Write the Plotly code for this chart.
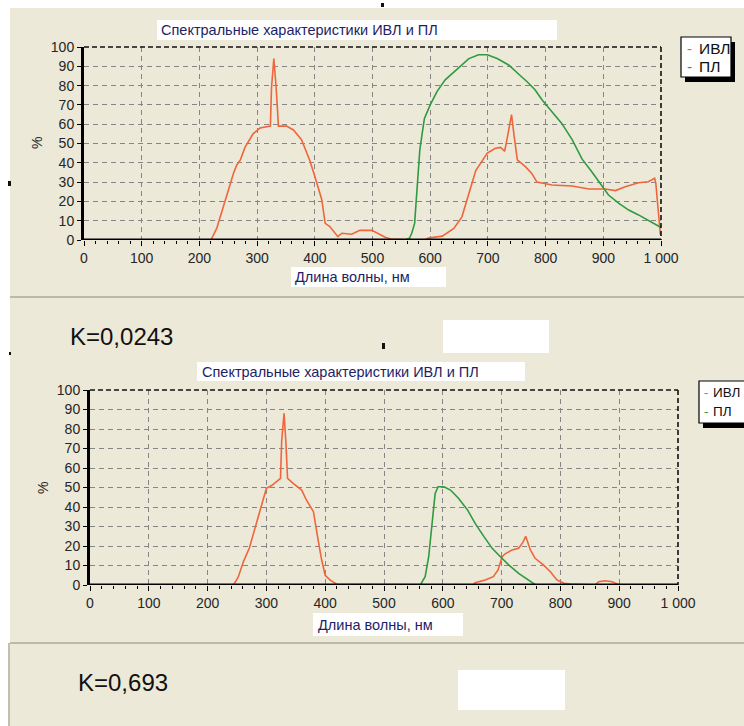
import plotly.graph_objects as go

W, H = 744, 726

# ---------------- data ----------------
# Panel 1 (K=0,0243)
ivl1_x = [0, 220, 230, 241, 259, 265, 271, 279, 293, 305, 319, 323, 325, 329, 333, 337, 351, 363, 377,
          391, 400, 412, 418, 426, 440, 447, 464, 478, 490, 499, 522, 534, 590, 597, 621, 641, 655,
          667, 679, 699, 713, 722, 729, 733, 741, 745, 751, 765, 776, 785, 800, 811, 846, 875, 903,
          921, 938, 961, 978, 989, 991, 995, 999]
ivl1_y = [0, 0, 6, 17, 34.5, 39, 41.5, 48, 55, 58, 59, 59, 79, 94, 79, 59, 59, 57, 52,
          41.5, 33, 21, 8.6, 7, 1.7, 3.5, 3, 5, 5, 5, 1.4, 0.3, 0, 1, 2, 6, 12,
          24, 36, 45, 47.5, 48, 46, 52, 65, 55, 41.5, 38, 34.5, 30, 29, 28.5, 28, 26.4, 26.4,
          25.6, 27.6, 29.7, 30.2, 32, 29.4, 17, 2.6]
pl1_x = [0, 557, 564, 568, 573, 577, 582, 586, 590, 600, 612, 626, 641, 653, 667, 684, 699, 716, 736,
         753, 768, 782, 794, 811, 828, 846, 863, 880, 898, 909, 927, 944, 961, 978, 996, 1000]
pl1_y = [0, 0, 0.9, 3.5, 8.6, 24, 46.6, 55, 63, 70, 77, 83, 87, 90.7, 94, 96, 96, 94, 90.7,
         86, 82, 77.7, 72.5, 66.5, 60.4, 52, 42, 35.4, 27.6, 23.3, 19, 15.5, 13, 10, 7, 6.5]

# Panel 2 (K=0,693)
ivl2_x = [0, 244, 252, 261, 271, 283, 300, 309, 320, 324, 326, 330, 333, 336, 346, 360, 368, 380,
          388, 394, 400, 408, 420, 652, 655, 672, 686, 694, 701, 706, 718, 729, 736, 741, 749,
          757, 771, 783, 794, 806, 817, 859, 865, 876, 888, 900, 1000]
ivl2_y = [0, 0, 4, 12, 19, 31.6, 49.6, 51, 54, 54.7, 74, 88, 74, 54.7, 52, 48.7, 43.6, 37.6,
          23, 12.8, 5, 2.6, 0.3, 0, 1.2, 2.6, 4.3, 7.7, 14.5, 16, 18, 18.8, 21.7, 25, 18,
          13.7, 10.3, 6.8, 2.6, 0.9, 0.5, 0, 1.7, 2.2, 1.7, 0, 0]
pl2_x = [0, 562, 565, 570, 576, 582, 587, 592, 602, 613, 627, 642, 655, 670, 684, 698, 712, 729,
         746, 758, 1000]
pl2_y = [0, 0, 1.7, 4.3, 14.5, 31.6, 47, 50.4, 50.4, 48.7, 44.4, 38.5, 31.6, 24.8, 18.8, 14.5,
         10.3, 6, 2.6, 0, 0]

series_names = ["ИВЛ", "ПЛ"]
k_labels = ["K=0,0243", "K=0,693"]
chart_title = "Спектральные характеристики ИВЛ и ПЛ"
x_title = "Длина волны, нм"
y_title = "%"
x_tickvals = [0, 100, 200, 300, 400, 500, 600, 700, 800, 900, 1000]
x_ticktext = ["0", "100", "200", "300", "400", "500", "600", "700", "800", "900", "1 000"]
y_tickvals = [0, 10, 20, 30, 40, 50, 60, 70, 80, 90, 100]

# ---------------- styling ----------------
BEIGE = "#ECE9D8"
ORANGE = "#F0653C"
GREEN = "#2F9A40"
NAVY = "#1E1E66"
FONT = "Liberation Sans, Arial, sans-serif"


def px(x):
    return x / W


def py(y):
    return 1 - y / H


fig = go.Figure()

fig.add_trace(go.Scatter(x=ivl1_x, y=ivl1_y, mode="lines", line=dict(color=ORANGE, width=1.6),
                         xaxis="x", yaxis="y", showlegend=False, name=series_names[0]))
fig.add_trace(go.Scatter(x=pl1_x, y=pl1_y, mode="lines", line=dict(color=GREEN, width=1.6),
                         xaxis="x", yaxis="y", showlegend=False, name=series_names[1]))
fig.add_trace(go.Scatter(x=ivl2_x, y=ivl2_y, mode="lines", line=dict(color=ORANGE, width=1.6),
                         xaxis="x2", yaxis="y2", showlegend=False, name=series_names[0]))
fig.add_trace(go.Scatter(x=pl2_x, y=pl2_y, mode="lines", line=dict(color=GREEN, width=1.6),
                         xaxis="x2", yaxis="y2", showlegend=False, name=series_names[1]))

panels = [
    # plot-area pixel boxes: left, right, top, bottom
    dict(l=84, r=661, t=47, b=240),
    dict(l=90, r=678, t=390, b=585),
]


def xaxis_cfg(p, anchor):
    return dict(domain=[px(p["l"]), px(p["r"])], range=[0, 1000], anchor=anchor, automargin=False,
                tickvals=x_tickvals, ticktext=x_ticktext, ticks="outside", ticklen=5,
                tickcolor="#000", tickwidth=1,
                minor=dict(tickvals=list(range(0, 1001, 20)), ticks="outside", ticklen=3,
                           tickcolor="#000", showgrid=False),
                showgrid=True, gridcolor="#858585", griddash="5px,4px", gridwidth=1,
                showline=False, zeroline=False,
                tickfont=dict(family=FONT, size=14, color="#262626"), fixedrange=True)


def yaxis_cfg(p, anchor):
    return dict(domain=[py(p["b"]), py(p["t"])], range=[0, 100], anchor=anchor, automargin=False,
                tickvals=y_tickvals, ticks="outside", ticklen=4, tickcolor="#000",
                showgrid=True, gridcolor="#858585", griddash="5px,4px", gridwidth=1,
                showline=True, linecolor="#000", linewidth=3, zeroline=False,
                tickfont=dict(family=FONT, size=14, color="#262626"), fixedrange=True)


shapes = []
annotations = []

# backgrounds
shapes.append(dict(type="rect", xref="paper", yref="paper", x0=px(10), x1=px(744), y0=py(8), y1=py(726),
                   fillcolor=BEIGE, line=dict(width=0), layer="below"))
for yy in (297, 643):
    shapes.append(dict(type="line", xref="paper", yref="paper", x0=px(10), x1=px(744), y0=py(yy), y1=py(yy),
                       line=dict(color="#ACA899", width=1.5), layer="below"))
shapes.append(dict(type="line", xref="paper", yref="paper", x0=px(9), x1=px(9), y0=py(643), y1=py(726),
                   line=dict(color="#ACA899", width=1.5), layer="below"))

# small stray marks
for (x0, y0, x1, y1) in [(8, 181, 11, 186), (9, 352, 11, 355), (381, 3, 384, 7), (382, 343, 385, 349)]:
    shapes.append(dict(type="rect", xref="paper", yref="paper", x0=px(x0), x1=px(x1), y0=py(y1), y1=py(y0),
                       fillcolor="#111", line=dict(width=0)))

# white boxes next to K labels
for (x0, y0, x1, y1) in [(443, 320, 549, 353), (458, 670, 565, 710)]:
    shapes.append(dict(type="rect", xref="paper", yref="paper", x0=px(x0), x1=px(x1), y0=py(y1), y1=py(y0),
                       fillcolor="white", line=dict(width=0), layer="below"))

# frame of plot areas: thick solid bottom (over the traces' zero level), dashed top/right
for i, p in enumerate(panels):
    xr, yr = ("x", "y") if i == 0 else ("x2", "y2")
    shapes.append(dict(type="line", xref=xr, yref=yr, x0=0, x1=1000, y0=0, y1=0,
                       line=dict(color="#000", width=3.2)))
    shapes.append(dict(type="line", xref="paper", yref="paper", x0=px(p["l"]), x1=px(p["r"]),
                       y0=py(p["t"]), y1=py(p["t"]), line=dict(color="#111", width=1.6, dash="5px,3px")))
    shapes.append(dict(type="line", xref="paper", yref="paper", x0=px(p["r"]), x1=px(p["r"]),
                       y0=py(p["t"]), y1=py(p["b"]), line=dict(color="#111", width=1.6, dash="5px,3px")))

# title and x-label white boxes
title_boxes = [(157, 20, 557, 40, 159), (197, 362, 525, 381, 200)]
xlab_boxes = [(291, 267, 446, 287, 293), (313, 613, 463, 636, 316)]
for (x0, y0, x1, y1, tx) in title_boxes:
    shapes.append(dict(type="rect", xref="paper", yref="paper", x0=px(x0), x1=px(x1), y0=py(y1), y1=py(y0),
                       fillcolor="white", line=dict(width=0), layer="below"))
    annotations.append(dict(xref="paper", yref="paper", x=px(tx), y=py((y0 + y1) / 2), text=chart_title,
                            showarrow=False, xanchor="left", yanchor="middle",
                            font=dict(family=FONT, size=14.5, color=NAVY)))
for (x0, y0, x1, y1, tx) in xlab_boxes:
    shapes.append(dict(type="rect", xref="paper", yref="paper", x0=px(x0), x1=px(x1), y0=py(y1), y1=py(y0),
                       fillcolor="white", line=dict(width=0), layer="below"))
    annotations.append(dict(xref="paper", yref="paper", x=px(tx), y=py((y0 + y1) / 2), text=x_title,
                            showarrow=False, xanchor="left", yanchor="middle",
                            font=dict(family=FONT, size=14.5, color=NAVY)))

# y-axis titles
for (xx, yy) in [(37, 143), (43, 488)]:
    annotations.append(dict(xref="paper", yref="paper", x=px(xx), y=py(yy), text=y_title, textangle=-90,
                            showarrow=False, xanchor="center", yanchor="middle",
                            font=dict(family=FONT, size=14, color="#262626")))

# legends (box + shadow + entries): (box x0, y0, x1, y1, dash x, name x, font size)
legend_boxes = [(681, 37, 731, 77, 685, 697, 15.5), (699, 381, 760, 423, 702, 711, 13.5)]
for (x0, y0, x1, y1, dx, nx, fs) in legend_boxes:
    shapes.append(dict(type="rect", xref="paper", yref="paper", x0=px(x0 + 4), x1=px(x1 + 4),
                       y0=py(y1 + 5), y1=py(y0 + 5), fillcolor="#000", line=dict(width=0)))
    shapes.append(dict(type="rect", xref="paper", yref="paper", x0=px(x0), x1=px(x1),
                       y0=py(y1), y1=py(y0), fillcolor="white", line=dict(color="#000", width=1.2)))
    for i, (nm, col) in enumerate(zip(series_names, [ORANGE, GREEN])):
        yy = py(y0 + 11 + i * 19)
        annotations.append(dict(xref="paper", yref="paper", x=px(dx), y=yy, text="-", showarrow=False,
                                xanchor="left", yanchor="middle",
                                font=dict(family=FONT, size=fs, color=col)))
        annotations.append(dict(xref="paper", yref="paper", x=px(nx), y=yy, text=nm, showarrow=False,
                                xanchor="left", yanchor="middle",
                                font=dict(family=FONT, size=fs, color="#111")))

# K labels
for (lab, xx, yy) in [(k_labels[0], 68, 336), (k_labels[1], 76, 682)]:
    annotations.append(dict(xref="paper", yref="paper", x=px(xx), y=py(yy), text=lab, showarrow=False,
                            xanchor="left", yanchor="middle",
                            font=dict(family=FONT, size=24, color="#111")))

fig.update_layout(
    template="none",
    width=W, height=H, margin=dict(l=0, r=0, t=0, b=0, pad=0),
    paper_bgcolor="white", plot_bgcolor="rgba(0,0,0,0)",
    xaxis=xaxis_cfg(panels[0], "y"), yaxis=yaxis_cfg(panels[0], "x"),
    xaxis2=xaxis_cfg(panels[1], "y2"), yaxis2=yaxis_cfg(panels[1], "x2"),
    shapes=shapes, annotations=annotations, showlegend=False,
)

fig.write_html("out.html", config={"displayModeBar": False, "staticPlot": True},
               post_script="document.body.style.margin='0';document.body.style.overflow='hidden';")
